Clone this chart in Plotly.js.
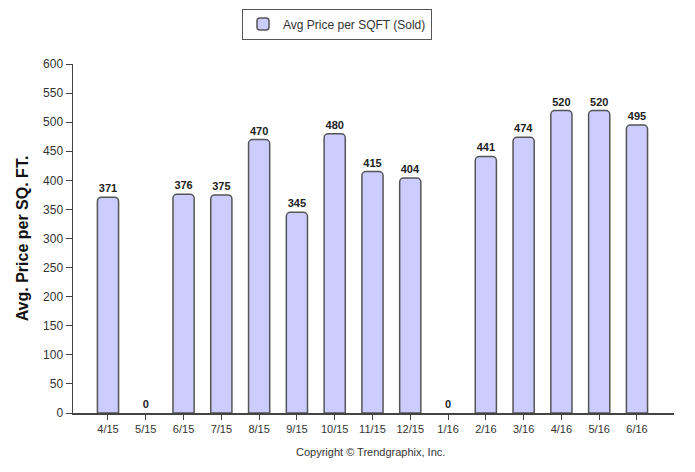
<!DOCTYPE html>
<html>
<head>
<meta charset="utf-8">
<script src="https://cdn.plot.ly/plotly-3.0.1.min.js"></script>
<style>html,body{margin:0;padding:0;background:#fff;}#chart{width:695px;height:472px;}</style>
</head>
<body>
<div id="chart"></div>
<script>
var categories = ["4/15","5/15","6/15","7/15","8/15","9/15","10/15","11/15","12/15","1/16","2/16","3/16","4/16","5/16","6/16"];
var avgPrice = [371,0,376,375,470,345,480,415,404,0,441,474,520,520,495];
var seriesName = "Avg Price per SQFT (Sold)";
var yTicks = [0,50,100,150,200,250,300,350,400,450,500,550,600];

var xIdx = categories.map(function(c,i){return i;});
var trace = {
  type: "bar",
  x: xIdx,
  y: avgPrice,
  name: seriesName,
  width: 0.56,
  text: avgPrice.map(String),
  textposition: "outside",
  cliponaxis: false,
  textfont: {family: "Liberation Sans, Arial, sans-serif", size: 11, color: "#222", weight: "bold"},
  marker: {color: "#ccccff", line: {color: "#555555", width: avgPrice.map(function(v){return v > 0 ? 1.5 : 0;})}, cornerradius: 4},
  showlegend: true,
  hoverinfo: "none"
};
var layout = {
  width: 695, height: 472,
  margin: {l: 73, r: 21, t: 64, b: 59},
  paper_bgcolor: "#fff", plot_bgcolor: "#fff",
  font: {family: "Liberation Sans, Arial, sans-serif", size: 12, color: "#333"},
  xaxis: {
    tickmode: "array", tickvals: xIdx, ticktext: categories,
    range: [-0.926, 14.98],
    showline: true, linecolor: "#444", linewidth: 1.5,
    ticks: "outside", ticklen: 5, tickcolor: "#444",
    showgrid: false, zeroline: false,
    tickfont: {size: 11, color: "#333"}, fixedrange: true
  },
  yaxis: {
    range: [0, 600],
    tickmode: "array", tickvals: yTicks,
    showline: true, linecolor: "#444", linewidth: 1.5,
    ticks: "outside", ticklen: 6, tickcolor: "#444",
    showgrid: false, zeroline: false,
    tickfont: {size: 12, color: "#333"},
    title: {text: "Avg. Price per SQ. FT.", font: {size: 16, color: "#111", weight: "bold"}, standoff: 10},
    fixedrange: true
  },
  showlegend: true,
  legend: {
    orientation: "h", x: 337 / 695, xref: "container", xanchor: "center",
    y: 1 - 24 / 472, yref: "container", yanchor: "middle",
    bgcolor: "#fff", bordercolor: "#555", borderwidth: 1,
    font: {size: 12, color: "#333"}
  },
  annotations: [{
    text: "Copyright \u00a9 Trendgraphix, Inc.",
    xref: "paper", yref: "paper", x: 0.495, y: -0.113,
    xanchor: "center", yanchor: "middle", showarrow: false,
    font: {size: 11, color: "#333"}
  }]
};
Plotly.newPlot("chart", [trace], layout, {displayModeBar: false, staticPlot: true});
</script>
</body>
</html>
